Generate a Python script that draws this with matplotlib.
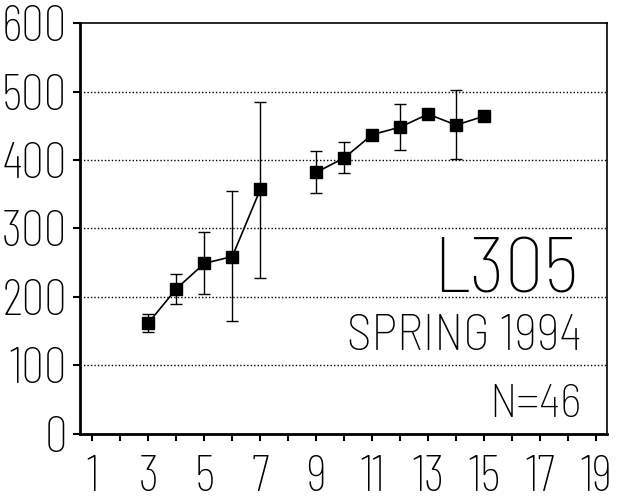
import numpy as np
import matplotlib.pyplot as plt

# mean value per week, with the spread shown as error bars (week 8 missing)
weeks = [3, 4, 5, 6, 7, 8, 9, 10, 11, 12, 13, 14, 15]
means = [162, 212, 249, 259, 357, np.nan, 382, 403, 437, 448, 467, 451, 464]
err_low = [13, 22, 45, 94, 129, np.nan, 30, 22, 0, 34, 0, 50, 0]
err_high = [13, 22, 46, 95, 128, np.nan, 31, 23, 0, 34, 0, 51, 0]

x_ticks = list(range(1, 20))
x_labels = [str(t) if t % 2 == 1 else '' for t in x_ticks]
y_ticks = [0, 100, 200, 300, 400, 500, 600]

title = 'L305'
subtitle = 'SPRING 1994'
count_label = 'N=46'

plt.rcParams['font.family'] = ['Barlow Condensed', 'DejaVu Sans']
plt.rcParams['font.weight'] = 'light'
label_font = ['Barlow Semi Condensed', 'DejaVu Sans']

fig = plt.figure(figsize=(6.24, 5.01), dpi=100)
ax = fig.add_axes([0.128, 0.134, 0.845, 0.82])

ax.errorbar(weeks, means, yerr=[err_low, err_high], fmt='-s', color='black',
            ecolor='black', elinewidth=1, capsize=4, capthick=1,
            markersize=9, linewidth=1.2)

ax.set_xlim(0.55, 19.4)
ax.set_ylim(0, 600)
ax.set_xticks(x_ticks)
ax.set_xticklabels(x_labels)
ax.set_yticks(y_ticks)
ax.tick_params(axis='both', labelsize=37, direction='out')
ax.tick_params(axis='x', length=5, width=1.5, pad=10)
ax.tick_params(axis='y', length=5, width=1.5, pad=4)

for y in y_ticks[1:-1]:
    ax.axhline(y, color='black', linestyle=(0, (1, 1.5)), linewidth=1)

ax.spines['left'].set_linewidth(2)
ax.spines['bottom'].set_linewidth(2)
ax.spines['top'].set_linewidth(1.2)
ax.spines['right'].set_linewidth(1.2)

ax.text(0.945, 0.306, title, transform=ax.transAxes, ha='right', va='bottom',
        fontsize=56, family=label_font)
ax.text(0.952, 0.18, subtitle, transform=ax.transAxes, ha='right', va='bottom',
        fontsize=36, family=label_font)
ax.text(0.952, 0.018, count_label, transform=ax.transAxes, ha='right', va='bottom',
        fontsize=34, family=label_font)

fig.savefig('out.png', dpi=100)
